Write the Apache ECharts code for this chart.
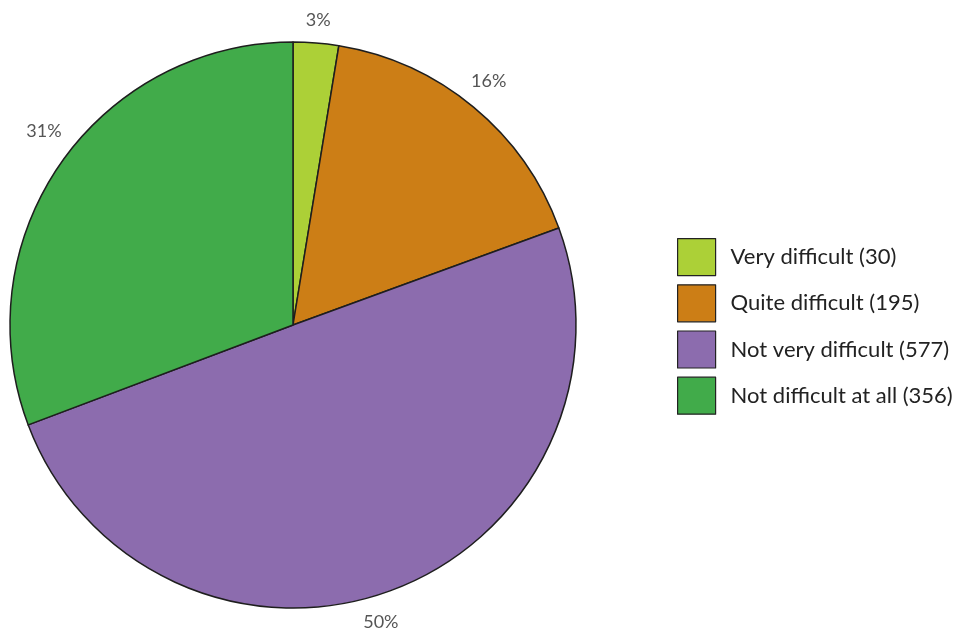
<!DOCTYPE html>
<html>
<head>
<meta charset="utf-8">
<script src="https://cdn.jsdelivr.net/npm/echarts@6/dist/echarts.min.js"></script>
<style>
  html, body { margin: 0; padding: 0; background: #fff; }
  #chart { width: 961px; height: 635px; }
</style>
</head>
<body>
<div id="chart"></div>
<script>
// Survey answers: how difficult respondents found it
const categories = ['Very difficult', 'Quite difficult', 'Not very difficult', 'Not difficult at all'];
const counts = [30, 195, 577, 356];
const percentLabels = ['3%', '16%', '50%', '31%'];

// Styling
const colors = ['#acd037', '#cc7e16', '#8c6cae', '#41ab4a'];
const PIE_CENTER = [293, 325];
const PIE_RADIUS = 283;
const LABEL_RADIUS = 310;
// small hand adjustments of the percentage labels, in px
const labelNudge = [[0, 4], [-2, -5], [-20, 7], [6, -17]];

const chart = echarts.init(document.getElementById('chart'), null, { renderer: 'canvas' });

const total = counts.reduce((a, b) => a + b, 0);
// mid angle (clockwise from 12 o'clock) of every slice, used to place its label
const midAngles = [];
let acc = 0;
counts.forEach(v => {
  midAngles.push((acc + v / 2) / total * 2 * Math.PI);
  acc += v;
});

const data = categories.map((name, i) => ({
  name: name,
  value: counts[i],
  itemStyle: { color: colors[i] },
  label: { formatter: percentLabels[i] }
}));

chart.setOption({
  animation: false,
  backgroundColor: '#ffffff',
  legend: {
    orient: 'vertical',
    left: 677,
    top: 238,
    padding: 0,
    itemWidth: 38,
    itemHeight: 37,
    itemGap: 8,
    icon: 'rect',
    itemStyle: { borderColor: '#222', borderWidth: 1.2 },
    textStyle: { fontFamily: 'Lato', fontSize: 22, color: '#222', padding: [0, 0, 0, 10] },
    formatter: name => name + ' (' + counts[categories.indexOf(name)] + ')',
    data: categories
  },
  series: [{
    type: 'pie',
    center: PIE_CENTER,
    radius: [0, PIE_RADIUS],
    startAngle: 90,
    clockwise: true,
    avoidLabelOverlap: false,
    itemStyle: { borderColor: '#1e1e1e', borderWidth: 1.5 },
    label: {
      show: true,
      position: 'outside',
      fontFamily: 'Lato',
      fontSize: 18,
      color: '#555'
    },
    labelLine: { show: false },
    labelLayout: function (params) {
      const i = params.dataIndex;
      const a = midAngles[i];
      return {
        x: PIE_CENTER[0] + LABEL_RADIUS * Math.sin(a) + labelNudge[i][0],
        y: PIE_CENTER[1] - LABEL_RADIUS * Math.cos(a) + labelNudge[i][1],
        align: 'center',
        verticalAlign: 'middle'
      };
    },
    emphasis: { disabled: true },
    data: data
  }]
});
</script>
</body>
</html>
